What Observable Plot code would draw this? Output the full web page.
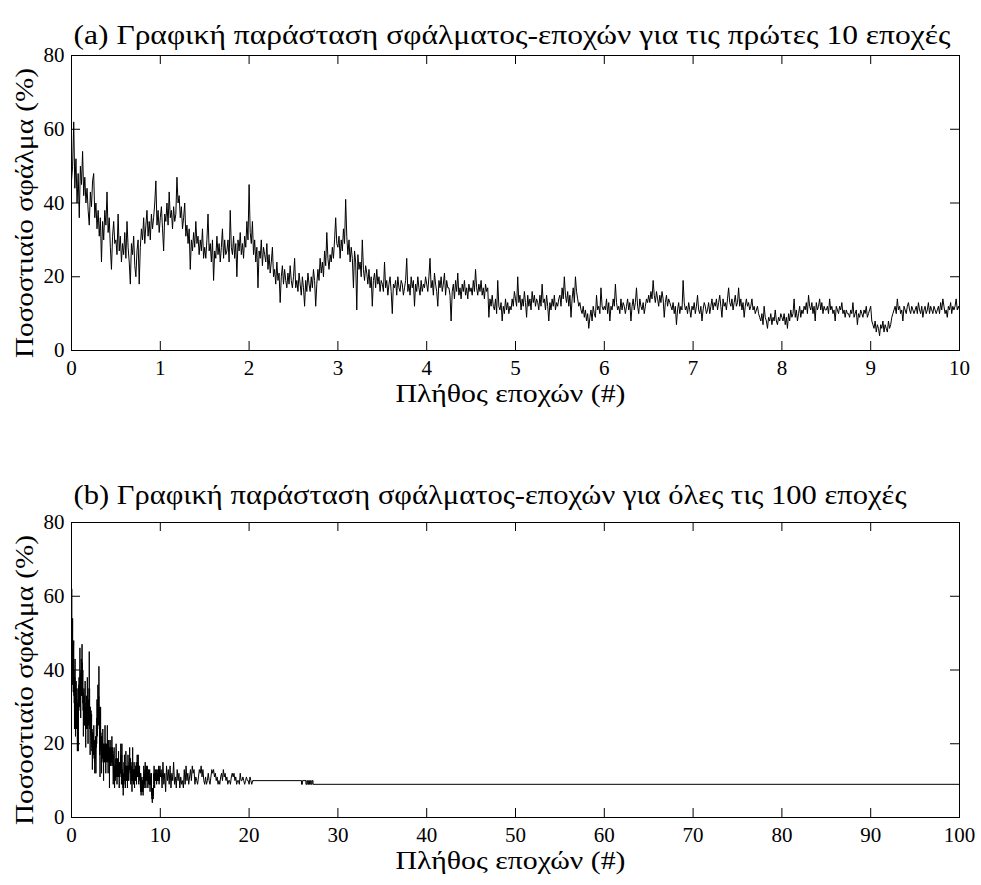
<!DOCTYPE html>
<html>
<head>
<meta charset="utf-8">
<script src="https://cdn.jsdelivr.net/npm/d3@7"></script>
<script src="https://cdn.jsdelivr.net/npm/@observablehq/plot@0.6"></script>
<style>
  html, body { margin: 0; padding: 0; background: white; }
  svg { display: block; }
  svg, svg text { font-family: "Liberation Serif", "Times New Roman", serif !important; }
</style>
</head>
<body>
<div id="chart"></div>
<script>
// ---- Data ----
const titleA = "(a) Γραφική παράσταση σφάλματος-εποχών για τις πρώτες 10 εποχές";
const titleB = "(b) Γραφική παράσταση σφάλματος-εποχών για όλες τις 100 εποχές";
const xLabel = "Πλήθος εποχών (#)";
const yLabel = "Ποσοστιαίο σφάλμα (%)";
const xTicksA = [0, 1, 2, 3, 4, 5, 6, 7, 8, 9, 10];
const xTicksB = [0, 10, 20, 30, 40, 50, 60, 70, 80, 90, 100];
const yTicks = [0, 20, 40, 60, 80];

// error (%) over epochs 0 .. 10, equally spaced samples (20 per quarter epoch)
const firstSpan = 10;
const errFirst10 = [
  46,50,62,44,52,40,48,36,50,45,54,42,47,40,44,38,34,43,39,46,
  48,36,40,33,38,31,36,24,35,30,38,34,43,32,36,28,22,31,35,29,
  30,26,37,27,31,24,29,26,32,25,35,28,24,18,29,26,31,23,20,27,
  30,18,28,33,30,36,29,34,38,31,35,30,37,33,36,40,46,34,38,32,
  36,39,33,27,37,35,40,34,43,36,38,33,39,35,37,47,40,42,36,39,
  33,36,40,31,34,29,33,22,30,27,32,28,35,29,31,26,30,27,33,25,
  28,25,30,37,27,29,24,30,19,27,25,31,26,29,24,28,33,25,30,26,
  27,30,24,38,28,26,31,25,29,20,30,27,32,26,29,25,31,28,35,30,
  45,32,29,35,26,30,24,28,17,27,25,30,23,28,26,24,29,22,26,21,
  24,28,20,22,18,24,19,21,13,20,23,18,22,19,17,21,18,23,19,17,
  20,25,17,19,16,21,18,15,20,17,12,19,16,21,18,16,20,17,22,19,
  12,18,22,19,25,21,24,20,27,23,32,25,22,26,24,28,25,30,36,29,
  28,31,25,30,27,33,29,41,31,26,30,24,28,25,17,27,24,11,26,22,
  24,20,30,22,19,23,21,18,22,17,20,12,19,21,17,22,18,20,16,19,
  18,16,24,17,19,15,18,20,16,10,18,17,19,15,20,17,16,19,18,15,
  17,19,25,16,18,15,20,17,19,12,18,16,20,17,15,19,16,18,17,20,
  18,16,20,25,17,19,15,21,18,16,12,19,17,20,16,18,21,15,19,17,
  17,15,8,16,18,14,19,16,21,15,17,14,18,16,19,15,17,14,18,16,
  17,15,19,16,22,17,15,18,16,19,15,17,14,18,16,17,9,14,12,15,
  12,11,14,10,19,12,11,13,8,12,10,14,11,13,10,12,11,14,12,16,
  14,12,20,13,15,11,14,12,16,13,9,15,12,14,11,16,13,15,12,14,
  13,11,15,12,18,13,14,11,15,12,8,13,11,14,12,15,11,13,12,14,
  15,12,17,14,20,15,13,16,12,15,9,14,17,13,20,16,14,12,13,11,
  10,12,9,11,8,10,6,9,11,8,12,10,9,15,11,12,10,17,12,11,
  12,11,14,10,13,8,12,11,14,12,18,13,11,12,10,14,11,13,12,10,
  12,14,11,13,8,12,14,11,13,17,12,10,14,12,11,13,10,12,14,13,
  15,13,16,14,19,15,13,16,14,12,15,13,16,14,9,13,15,12,14,13,
  12,11,13,10,12,7,11,13,10,12,11,19,13,11,12,10,13,11,9,12,
  11,13,10,12,15,11,10,12,8,11,13,12,10,11,13,10,12,14,11,13,
  12,14,11,13,15,12,9,14,12,13,11,14,17,13,12,14,11,13,15,12,
  13,17,12,14,11,13,9,12,14,12,13,11,12,14,11,12,10,11,12,10,
  9,8,10,7,12,9,8,6,9,8,10,7,9,8,11,8,7,9,8,10,
  9,8,10,7,9,6,10,8,11,9,10,14,9,11,8,10,12,9,11,10,
  12,11,13,10,15,12,11,13,10,12,8,13,11,12,14,11,13,10,12,11,
  11,12,10,14,11,12,10,11,8,12,11,10,12,11,13,10,11,9,11,10,
  10,9,11,10,13,9,10,11,7,10,9,11,10,9,11,10,12,9,10,11,
  12,8,7,6,8,5,7,6,4,7,6,8,5,7,6,5,8,6,7,9,
  10,11,12,10,14,11,12,10,11,8,12,11,10,12,13,11,10,12,11,10,
  11,12,10,13,11,10,12,9,11,12,10,11,13,10,12,11,10,12,11,10,
  11,12,10,13,11,14,12,10,11,9,12,11,13,10,12,11,12,14,11,12,
  11
];

// error (%) for epochs 10.1 .. 20.5, sampled every 0.1 epoch
const laterStart = 10.1, laterStep = 0.1;
const errLater = [
  13,8,15,9,12,7,14,10,13,9,
  14,8,12,10,15,9,11,8,13,10,
  12,8,11,9,10,8,13,9,14,10,
  12,9,11,13,10,14,12,13,9,11,
  10,9,11,13,12,14,11,13,10,9,
  11,9,10,12,10,9,11,13,12,13,
  11,12,10,11,9,10,9,11,12,10,
  13,11,12,10,11,9,10,10,9,11,
  12,11,12,10,11,9,10,10,9,12,
  10,10,11,10,9,10,11,10,10,9,
  11,10,9,10,10
];

// settled tail (step values)
const tailEpochs = [20.5, 25.9, 26.0, 26.4, 26.5, 26.6, 26.7, 26.8, 26.9, 27.0, 27.1, 27.2, 27.3, 100];
const tailValues = [10,   9,    10,   9,    10,   9,    10,   9,    10,   9,    10,   9,    9,    9];

// ---- Build tables ----
const stepFirst = firstSpan / (errFirst10.length - 1);
const seriesMain = errFirst10.map((v, i) => ({epoch: i * stepFirst, err: v}))
  .concat(errLater.map((v, i) => ({epoch: laterStart + i * laterStep, err: v})));
const seriesTail = tailEpochs.map((e, i) => ({epoch: e, err: tailValues[i]}));

const serif = "Liberation Serif";
const plotW = 888, plotH = 295, tickLen = 9;

function panel({title, titleWidth, xDomain, xTicks, includeTail, height, marginTop, marginBottom, titleDy}) {
  const marks = [
    Plot.line(seriesMain, {x: "epoch", y: "err", stroke: "black", strokeWidth: 1, clip: true})
  ];
  if (includeTail) marks.push(Plot.line(seriesTail, {x: "epoch", y: "err", stroke: "black", strokeWidth: 1, curve: "step-after", clip: true}));
  marks.push(
    Plot.frame({stroke: "black", strokeWidth: 1}),
    Plot.tickX(xTicks, {x: d => d, insetBottom: plotH - tickLen, stroke: "black"}),
    Plot.tickX(xTicks, {x: d => d, insetTop: plotH - tickLen, stroke: "black"}),
    Plot.tickY(yTicks, {y: d => d, insetRight: plotW - tickLen, stroke: "black"}),
    Plot.tickY(yTicks, {y: d => d, insetLeft: plotW - tickLen, stroke: "black"}),
    Plot.axisX(xTicks, {tickSize: 0, tickPadding: 10, label: null, fontSize: 21, fontFamily: serif}),
    Plot.axisY(yTicks, {tickSize: 0, tickPadding: 7, label: null, fontSize: 21, fontFamily: serif}),
    Plot.text([xLabel], {text: d => d, frameAnchor: "bottom", textAnchor: "middle", dy: 51, dx: -5, fontSize: 26, fontFamily: serif, fill: "black"}),
    Plot.text([yLabel], {text: d => d, frameAnchor: "left", textAnchor: "middle", rotate: -90, dx: -47, dy: 10, fontSize: 26, fontFamily: serif, fill: "black"}),
    Plot.text([title], {text: d => d, frameAnchor: "top-left", textAnchor: "start", dx: 2, dy: titleDy, fontSize: 27, fontFamily: serif, fill: "black"})
  );
  const svg = Plot.plot({
    width: 981, height, marginLeft: 71, marginRight: 22, marginTop, marginBottom,
    style: {fontFamily: serif, fontSize: "21px", color: "black", background: "white", overflow: "visible"},
    x: {domain: xDomain},
    y: {domain: [0, 80]},
    marks
  });
  // stretch the wide Greek texts to the reference widths
  const widths = new Map([[title, titleWidth], [xLabel, 230], [yLabel, 290]]);
  d3.select(svg).selectAll("text").each(function() {
    const w = widths.get(this.textContent);
    if (w) { this.setAttribute("textLength", w); this.setAttribute("lengthAdjust", "spacingAndGlyphs"); }
  });
  return svg;
}

const chart = document.getElementById("chart");
chart.appendChild(panel({title: titleA, titleWidth: 877, xDomain: [0, 10], xTicks: xTicksA, includeTail: false, height: 440, marginTop: 55, marginBottom: 90, titleDy: -31}));
chart.appendChild(panel({title: titleB, titleWidth: 833, xDomain: [0, 100], xTicks: xTicksB, includeTail: true, height: 445, marginTop: 82, marginBottom: 68, titleDy: -38}));
</script>
</body>
</html>
